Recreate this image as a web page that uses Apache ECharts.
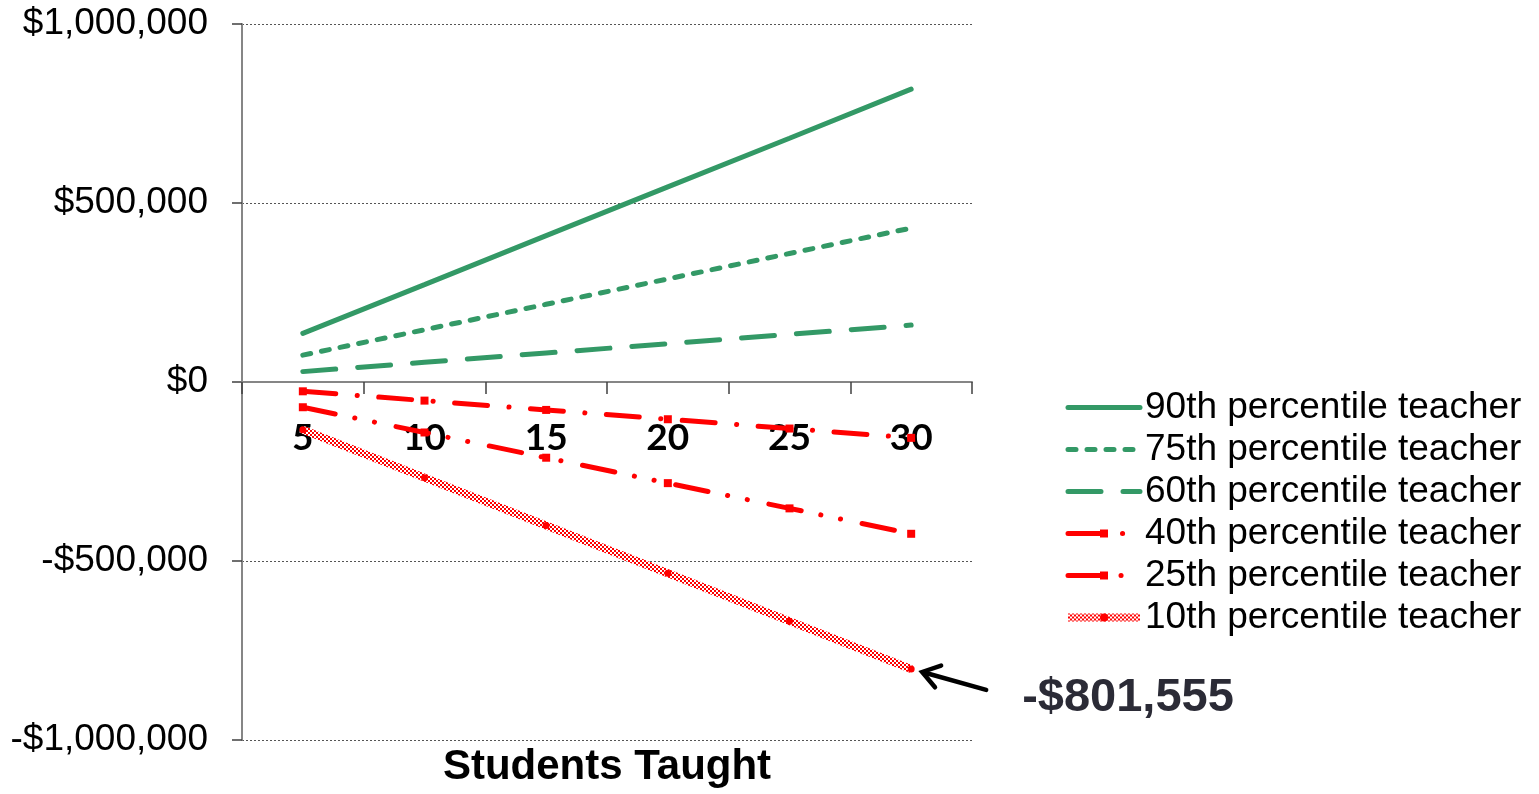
<!DOCTYPE html>
<html>
<head>
<meta charset="utf-8">
<script src="https://cdn.jsdelivr.net/npm/echarts@6/dist/echarts.min.js"></script>
<style>
  html, body { margin: 0; padding: 0; background: #ffffff; }
  #chart { width: 1539px; height: 794px; }
</style>
</head>
<body>
<div id="chart"></div>
<script>
// Students taught per year (x axis)
const studentsTaught = ['5', '10', '15', '20', '25', '30'];

// Cumulative value added, in dollars, by teacher percentile
const p90 = [136000, 272000, 409000, 545000, 681000, 818000];
const p75 = [75000, 146000, 217000, 288000, 359000, 430000];
const p60 = [29000, 55000, 81000, 107000, 133000, 159000];
const p40 = [-26000, -52000, -78000, -104000, -130000, -156000];
const p25 = [-70500, -141000, -211500, -282500, -353000, -424000];
const p10 = [-133593, -267185, -400778, -534370, -667963, -801555];

const seriesNames = [
  '90th percentile teacher',
  '75th percentile teacher',
  '60th percentile teacher',
  '40th percentile teacher',
  '25th percentile teacher',
  '10th percentile teacher'
];

const GREEN = '#339966';
const RED = '#ff0000';
const FONT = '"Liberation Sans", Arial, sans-serif';

// plot box
const GRID = { left: 242, right: 567, top: 24, bottom: 54 };
const PLOT_H = 794 - GRID.top - GRID.bottom;

function money(v) {
  const s = Math.abs(v).toLocaleString('en-US');
  return (v < 0 ? '-$' : '$') + s;
}

// red / white checkerboard used as the stroke of the 10th percentile line
function checker() {
  const c = document.createElement('canvas');
  c.width = 4; c.height = 4;
  const g = c.getContext('2d');
  g.fillStyle = '#ffffff'; g.fillRect(0, 0, 4, 4);
  g.fillStyle = RED;
  g.fillRect(0, 0, 2, 2);
  g.fillRect(2, 2, 2, 2);
  return c;
}

const chart = echarts.init(document.getElementById('chart'), null, { renderer: 'canvas' });

const noSymbol = { itemStyle: { opacity: 0 } };

const Y_MIN = -1000000, Y_MAX = 1000000;
// the category axis sits on the $0 line
const zeroOffset = -PLOT_H * (0 - Y_MIN) / (Y_MAX - Y_MIN);

const option = {
  animation: false,
  backgroundColor: '#ffffff',
  grid: Object.assign({ containLabel: false, outerBoundsMode: 'none' }, GRID),
  legend: {
    orient: 'vertical',
    left: 1064,
    top: 389,
    itemWidth: 72,
    itemHeight: 10,
    itemGap: 5,
    padding: 0,
    lineStyle: { width: 'inherit' },
    data: [
      Object.assign({ name: seriesNames[0] }, noSymbol),
      Object.assign({ name: seriesNames[1] }, noSymbol),
      Object.assign({ name: seriesNames[2] }, noSymbol),
      { name: seriesNames[3] },
      { name: seriesNames[4] },
      { name: seriesNames[5] }
    ],
    textStyle: { fontFamily: FONT, fontSize: 37, color: '#000000', lineHeight: 37 }
  },
  xAxis: {
    type: 'category',
    data: studentsTaught,
    boundaryGap: true,
    position: 'bottom',
    offset: zeroOffset,
    z: 3,
    name: 'Students Taught',
    nameLocation: 'middle',
    nameGap: 364,
    nameTextStyle: { fontFamily: FONT, fontSize: 42, fontWeight: 'bold', color: '#000000' },
    axisLine: { onZero: false, lineStyle: { color: '#868686', width: 2 } },
    axisTick: { show: true, length: 12, lineStyle: { color: '#404040', width: 1.5 } },
    axisLabel: {
      margin: 38,
      fontFamily: 'Lato, "Open Sans", sans-serif',
      fontWeight: 'bold',
      fontSize: 37,
      color: '#000000'
    },
    splitLine: { show: false }
  },
  yAxis: {
    type: 'value',
    min: Y_MIN,
    max: Y_MAX,
    interval: 500000,
    axisLine: { show: true, lineStyle: { color: '#868686', width: 2 } },
    axisTick: { show: true, length: 10, lineStyle: { color: '#404040', width: 1.5 } },
    axisLabel: {
      margin: 34,
      fontFamily: FONT,
      fontSize: 37,
      color: '#000000',
      formatter: money
    },
    splitLine: { show: true, lineStyle: { color: '#555555', width: 1, type: [2, 2] } }
  },
  series: [
    {
      name: seriesNames[0], type: 'line', data: p90, symbol: 'none',
      itemStyle: { color: GREEN },
      lineStyle: { color: GREEN, width: 5, cap: 'round' }
    },
    {
      name: seriesNames[1], type: 'line', data: p75, symbol: 'none',
      itemStyle: { color: GREEN },
      lineStyle: { color: GREEN, width: 5, cap: 'round', type: [8, 11] }
    },
    {
      name: seriesNames[2], type: 'line', data: p60, symbol: 'none',
      itemStyle: { color: GREEN },
      lineStyle: { color: GREEN, width: 5, cap: 'round', type: [33, 22] }
    },
    {
      name: seriesNames[3], type: 'line', data: p40,
      symbol: 'rect', symbolSize: 8, showSymbol: true,
      itemStyle: { color: RED },
      lineStyle: { color: RED, width: 5, cap: 'round', type: [33, 21.5, 0.1, 21.5] }
    },
    {
      name: seriesNames[4], type: 'line', data: p25,
      symbol: 'rect', symbolSize: 8, showSymbol: true,
      itemStyle: { color: RED },
      lineStyle: { color: RED, width: 5, cap: 'round', type: [33, 20, 0.1, 20, 0.1, 22] }
    },
    {
      name: seriesNames[5], type: 'line', data: p10,
      symbol: 'circle', symbolSize: 7, showSymbol: true,
      itemStyle: { color: RED },
      lineStyle: { color: { image: checker(), repeat: 'repeat' }, width: 8 }
    }
  ]
};

chart.setOption(option);

// Callout for the final 10th percentile value
const lastIdx = p10.length - 1;
const pt = chart.convertToPixel({ xAxisIndex: 0, yAxisIndex: 0 }, [lastIdx, p10[lastIdx]]);
const tip = [pt[0] + 11, pt[1] + 3];
const tail = [pt[0] + 75, pt[1] + 21];
const dx = tail[0] - tip[0], dy = tail[1] - tip[1];
const len = Math.hypot(dx, dy);
const ux = dx / len, uy = dy / len;
const arm = 20, ang = 0.6;
function rot(x, y, a) { return [x * Math.cos(a) - y * Math.sin(a), x * Math.sin(a) + y * Math.cos(a)]; }
const a1 = rot(ux, uy, ang), a2 = rot(ux, uy, -ang);

chart.setOption({
  graphic: [
    {
      type: 'line',
      shape: { x1: tail[0], y1: tail[1], x2: tip[0] + ux * 2, y2: tip[1] + uy * 2 },
      style: { stroke: '#000000', lineWidth: 4.5, lineCap: 'round' },
      silent: true
    },
    {
      type: 'polyline',
      shape: { points: [
        [tip[0] + a1[0] * arm, tip[1] + a1[1] * arm],
        tip,
        [tip[0] + a2[0] * arm, tip[1] + a2[1] * arm]
      ] },
      style: { stroke: '#000000', fill: null, lineWidth: 4.5, lineCap: 'round', lineJoin: 'miter' },
      silent: true
    },
    {
      type: 'text',
      x: pt[0] + 111,
      y: pt[1] + 29,
      style: {
        text: money(p10[lastIdx]),
        font: 'bold 47px ' + FONT,
        fill: '#2b2b36',
        verticalAlign: 'middle',
        align: 'left'
      },
      silent: true
    }
  ]
});
</script>
</body>
</html>
